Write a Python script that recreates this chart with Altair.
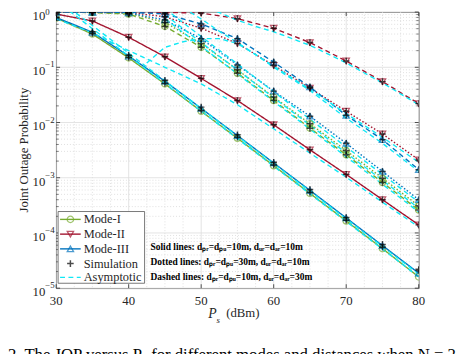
import altair as alt
import pandas as pd

# ---------------- data ----------------
X = [30, 35, 40, 45, 50, 55, 60, 65, 70, 75, 80]
MODES = ["Mode-I", "Mode-II", "Mode-III"]
CONFIGS = ["solid", "dotted", "dashed"]

# analytical curves
m1_solid = [0.78, 0.40, 0.148, 0.050, 0.0160, 0.0052, 0.00165, 0.00052, 0.000165, 0.000052, 0.0000160]
m2_solid = [0.92, 0.69, 0.35, 0.155, 0.063, 0.025, 0.0091, 0.0032, 0.00115, 0.00040, 0.00014]
m3_solid = [0.80, 0.43, 0.16, 0.056, 0.018, 0.0058, 0.00185, 0.00059, 0.000187, 0.000059, 0.0000187]
m1_dotted = [1.0, 0.99, 0.95, 0.65, 0.27, 0.090, 0.029, 0.0095, 0.0031, 0.00098, 0.00031]
m2_dotted = [1.0, 1.0, 0.99, 0.82, 0.51, 0.27, 0.108, 0.042, 0.016, 0.0062, 0.0021]
m3_dotted = [1.0, 0.99, 0.96, 0.72, 0.33, 0.11, 0.037, 0.013, 0.0042, 0.0013, 0.00040]
m1_dashed = [1.0, 0.98, 0.92, 0.55, 0.23, 0.078, 0.025, 0.0079, 0.0026, 0.00082, 0.00026]
m2_dashed = [1.0, 1.0, 0.995, 0.985, 0.96, 0.76, 0.51, 0.28, 0.13, 0.055, 0.022]
m3_dashed = [1.0, 1.0, 0.99, 0.93, 0.61, 0.33, 0.124, 0.044, 0.0135, 0.0049, 0.0014]

# simulation points (coincide with analysis)
sim_m1_solid = [0.79, 0.41, 0.150, 0.051, 0.0165, 0.0054, 0.0017, 0.00054, 0.00017, 0.000055, 0.000022]
sim_m3_solid = [0.81, 0.44, 0.165, 0.058, 0.019, 0.0060, 0.0019, 0.00061, 0.00019, 0.000062, 0.000021]

# asymptotic curves
asy_x_full = [30, 35, 40, 45, 50, 55, 60, 65, 70, 75, 80]
asy_m1_solid = [1.6, 0.50, 0.16, 0.051, 0.0161, 0.0051, 0.00161, 0.00051, 0.000161, 0.000051, 0.0000161]
asy_m3_solid = [1.8, 0.57, 0.18, 0.057, 0.018, 0.0057, 0.0018, 0.00057, 0.00018, 0.000057, 0.000018]
asy_m2_solid = [0.75, 0.42, 0.20, 0.10, 0.050, 0.021, 0.0077, 0.0028, 0.00102, 0.00036, 0.000128]
asy_x_top = [50, 52.5, 55, 57.5, 60, 65, 70, 75, 80]
asy_m2_dashed = [1.3, 0.98, 0.71, 0.55, 0.44, 0.25, 0.12, 0.052, 0.021]
asy_x_g2a = [42.5, 45, 47.5, 50, 52.5, 55, 57.5, 60, 65, 70, 75, 80]
asy_m3_dashed = [0.12, 0.23, 0.29, 0.33, 0.33, 0.27, 0.17, 0.10, 0.038, 0.012, 0.0042, 0.0013]
asy_x_g2b = [47.5, 50, 52.5, 55, 57.5, 60, 65, 70, 75, 80]
asy_m2_dotted = [1.2, 0.75, 0.45, 0.28, 0.17, 0.105, 0.040, 0.0145, 0.0054, 0.0019]
asy_x_mid = [45, 50, 55, 60, 65, 70, 75, 80]
asy_m3_dotted = [1.15, 0.36, 0.115, 0.036, 0.0115, 0.0036, 0.00115, 0.00036]
asy_m1_dotted = [0.90, 0.28, 0.090, 0.028, 0.0090, 0.0028, 0.00090, 0.00028]
asy_m1_dashed = [0.76, 0.24, 0.076, 0.024, 0.0076, 0.0024, 0.00076, 0.00024]

x_major = [30, 40, 50, 60, 70, 80]
x_minor = [32.5, 35, 37.5, 42.5, 45, 47.5, 52.5, 55, 57.5, 62.5, 65, 67.5, 72.5, 75, 77.5]
y_exps = [0, -1, -2, -3, -4, -5]
y_major = [10.0 ** e for e in y_exps]
y_minor = [m * 10.0 ** e for e in [-5, -4, -3, -2, -1] for m in range(2, 10)]

legend_names = ["Mode-I", "Mode-II", "Mode-III", "Simulation", "Asymptotic"]
notes = [
    "Solid lines: d\u209a\u1d63=d\u209a\u1d64=10m, d\u1d64\u1d63=d\u2090\u1d63=10m",
    "Dotted lines: d\u209a\u1d63=d\u209a\u1d64=30m, d\u1d64\u1d63=d\u2090\u1d63=10m",
    "Dashed lines: d\u209a\u1d63=d\u209a\u1d64=10m, d\u1d64\u1d63=d\u2090\u1d63=30m",
]
caption = "2.  The JOP versus  P\u209b  for different modes and distances when N = 2"

# ---------------- styling ----------------
GREEN, RED, BLUE, CYAN = "#77AC30", "#A2142F", "#0072BD", "#10E8F5"
FONT = "Liberation Serif"
W, H = 369, 281
TXT = "#262626"

# ---------------- tables ----------------
series = {
    ("Mode-I", "solid"): m1_solid, ("Mode-II", "solid"): m2_solid, ("Mode-III", "solid"): m3_solid,
    ("Mode-I", "dotted"): m1_dotted, ("Mode-II", "dotted"): m2_dotted, ("Mode-III", "dotted"): m3_dotted,
    ("Mode-I", "dashed"): m1_dashed, ("Mode-II", "dashed"): m2_dashed, ("Mode-III", "dashed"): m3_dashed,
}
rows = []
for (mode, cfg), vals in series.items():
    for x, v in zip(X, vals):
        rows.append({"x": x, "y": v, "mode": mode, "cfg": cfg, "key": mode + cfg})
df = pd.DataFrame(rows)

sim_rows = []
for (mode, cfg), vals in series.items():
    if (mode, cfg) == ("Mode-I", "solid"):
        vals = sim_m1_solid
    if (mode, cfg) == ("Mode-III", "solid"):
        vals = sim_m3_solid
    for x, v in zip(X, vals):
        sim_rows.append({"x": x, "y": v})
df_sim = pd.DataFrame(sim_rows)

asy = [
    ("a1", asy_x_full, asy_m1_solid), ("a2", asy_x_full, asy_m3_solid), ("a3", asy_x_full, asy_m2_solid),
    ("a4", asy_x_top, asy_m2_dashed), ("a5", asy_x_g2a, asy_m3_dashed), ("a6", asy_x_g2b, asy_m2_dotted),
    ("a7", asy_x_mid, asy_m3_dotted), ("a8", asy_x_mid, asy_m1_dotted), ("a9", asy_x_mid, asy_m1_dashed),
]
df_asy = pd.DataFrame([{"x": x, "y": v, "key": k} for k, xs, ys in asy for x, v in zip(xs, ys)])

xs = alt.Scale(domain=[30, 80], nice=False, zero=False)
ys = alt.Scale(type="log", domain=[1e-5, 1], nice=False)
xe = alt.X("x:Q", scale=xs, axis=None)
ye = alt.Y("y:Q", scale=ys, axis=None)

# ---------------- grid ----------------
gx_min = alt.Chart(pd.DataFrame({"x": x_minor})).mark_rule(color="#d8d8d8", strokeDash=[1, 2], strokeWidth=0.8).encode(x=xe)
gy_min = alt.Chart(pd.DataFrame({"y": y_minor})).mark_rule(color="#d8d8d8", strokeDash=[1, 2], strokeWidth=0.8).encode(y=ye)
gx_maj = alt.Chart(pd.DataFrame({"x": x_major})).mark_rule(color="#dcdcdc", strokeWidth=0.8).encode(x=xe)
gy_maj = alt.Chart(pd.DataFrame({"y": y_major})).mark_rule(color="#dcdcdc", strokeWidth=0.8).encode(y=ye)

# ticks (inward, MATLAB style)
tick_b = alt.Chart(pd.DataFrame({"x": x_major})).mark_rule(color=TXT, strokeWidth=0.8).encode(x=xe, y=alt.value(H), y2=alt.value(H - 4))
tick_t = alt.Chart(pd.DataFrame({"x": x_major})).mark_rule(color=TXT, strokeWidth=0.8).encode(x=xe, y=alt.value(0), y2=alt.value(4))
tick_l = alt.Chart(pd.DataFrame({"y": y_major})).mark_rule(color=TXT, strokeWidth=0.8).encode(y=ye, x=alt.value(0), x2=alt.value(4))
tick_r = alt.Chart(pd.DataFrame({"y": y_major})).mark_rule(color=TXT, strokeWidth=0.8).encode(y=ye, x=alt.value(W), x2=alt.value(W - 4))
mtick_l = alt.Chart(pd.DataFrame({"y": y_minor})).mark_rule(color=TXT, strokeWidth=0.6).encode(y=ye, x=alt.value(0), x2=alt.value(2.5))
mtick_r = alt.Chart(pd.DataFrame({"y": y_minor})).mark_rule(color=TXT, strokeWidth=0.6).encode(y=ye, x=alt.value(W), x2=alt.value(W - 2.5))

# ---------------- curves ----------------
color = alt.Color("mode:N", scale=alt.Scale(domain=MODES, range=[GREEN, RED, BLUE]), legend=None)
lines = alt.Chart(df).mark_line(strokeWidth=1.4, clip=True).encode(
    x=xe, y=ye, color=color, detail="key:N",
    strokeDash=alt.StrokeDash("cfg:N", scale=alt.Scale(domain=CONFIGS, range=[[1, 0], [1.5, 2], [5, 3.5]]), legend=None),
)
asy_lines = alt.Chart(df_asy).mark_line(strokeWidth=1.4, color=CYAN, strokeDash=[5, 3.5], clip=True).encode(
    x=xe, y=ye, detail="key:N"
)
markers = alt.Chart(df).mark_point(filled=False, strokeWidth=1.3, size=42, clip=True).encode(
    x=xe, y=ye, color=color,
    shape=alt.Shape("mode:N", scale=alt.Scale(domain=MODES, range=["circle", "triangle-down", "triangle-up"]), legend=None),
)
PLUS = "M-1,0L1,0M0,-1L0,1"
sims = alt.Chart(df_sim).mark_point(shape=PLUS, filled=False, strokeWidth=1.5, size=45, color="black", clip=True).encode(x=xe, y=ye)

# ---------------- axis labels ----------------
xlab = alt.Chart(pd.DataFrame({"x": x_major, "t": [str(v) for v in x_major]})).mark_text(
    font=FONT, fontSize=13, color=TXT, baseline="middle").encode(x=xe, y=alt.value(H + 13), text="t:N")
ydf = pd.DataFrame({"y": y_major, "b": ["10"] * 6, "e": [str(e).replace("-", "\u2212") if e else "0" for e in y_exps]})
ylab10 = alt.Chart(ydf).mark_text(font=FONT, fontSize=13, color=TXT, align="right", baseline="middle", dx=-11, dy=4).encode(
    y=ye, x=alt.value(0), text="b:N")
ylabe = alt.Chart(ydf[ydf["y"] < 0.5]).mark_text(font=FONT, fontSize=9, color=TXT, align="left", baseline="middle", dx=-11, dy=-3).encode(
    y=ye, x=alt.value(0), text="e:N")
ylabe0 = alt.Chart(ydf[ydf["y"] > 0.5]).mark_text(font=FONT, fontSize=9, color=TXT, align="left", baseline="middle", dx=-11, dy=0).encode(
    y=ye, x=alt.value(0), text="e:N")

def txt(t, x, y, **kw):
    base = dict(font=FONT, fontSize=13, color=TXT, baseline="middle")
    base.update(kw)
    return alt.Chart(pd.DataFrame({"t": [t]})).mark_text(**base).encode(x=alt.value(x), y=alt.value(y), text="t:N")

ytitle = txt("Joint Outage Probability", -33, H / 2, angle=270, align="center")
xt_p = txt("P", 159, 307, fontStyle="italic", fontSize=14, align="center")
xt_s = txt("s", 165, 313, fontStyle="italic", fontSize=9, align="center")
xt_u = txt("(dBm)", 173, 306, align="left")

# ---------------- legend (manual, MATLAB style) ----------------
leg_box = alt.Chart(pd.DataFrame({"a": [0]})).mark_rect(fill="white", stroke="#555", strokeWidth=0.8).encode(
    x=alt.value(2), x2=alt.value(90), y=alt.value(203), y2=alt.value(276))
LY = [211, 226, 241, 256, 270]
leg_layers = [leg_box]
for i, (c, shp) in enumerate([(GREEN, "circle"), (RED, "triangle-down"), (BLUE, "triangle-up")]):
    leg_layers.append(alt.Chart(pd.DataFrame({"a": [0]})).mark_rule(color=c, strokeWidth=1.4).encode(
        x=alt.value(4), x2=alt.value(25), y=alt.value(LY[i])))
    leg_layers.append(alt.Chart(pd.DataFrame({"a": [0]})).mark_point(shape=shp, filled=False, color=c, strokeWidth=1.3, size=42).encode(
        x=alt.value(14.5), y=alt.value(LY[i])))
leg_layers.append(alt.Chart(pd.DataFrame({"a": [0]})).mark_point(shape=PLUS, filled=False, color="black", strokeWidth=1.5, size=45).encode(
    x=alt.value(14.5), y=alt.value(LY[3])))
leg_layers.append(alt.Chart(pd.DataFrame({"a": [0]})).mark_rule(color=CYAN, strokeWidth=1.4, strokeDash=[5, 3.5]).encode(
    x=alt.value(4), x2=alt.value(25), y=alt.value(LY[4])))
for i, name in enumerate(legend_names):
    leg_layers.append(txt(name, 28, LY[i], align="left", fontSize=12.6))

note_layers = [txt(n, 96, y, fontSize=9.6, fontWeight="bold", align="left", color="black") for n, y in zip(notes, [239, 254, 270])]
cap = txt(caption, -49, 354, fontSize=17, align="left", baseline="alphabetic", color="black")

chart = alt.layer(
    gx_min, gy_min, gx_maj, gy_maj,
    lines, asy_lines, markers, sims,
    tick_b, tick_t, tick_l, tick_r, mtick_l, mtick_r,
    xlab, ylab10, ylabe, ylabe0, ytitle, xt_p, xt_s, xt_u,
    *leg_layers, *note_layers, cap,
).properties(
    width=W, height=H,
    autosize=alt.AutoSizeParams(type="none"),
    padding={"left": 49, "top": 1, "right": 42, "bottom": 72},
).configure_view(stroke="#555", strokeWidth=0.9)

chart.save("out.html", embed_options={"renderer": "svg", "actions": False})
